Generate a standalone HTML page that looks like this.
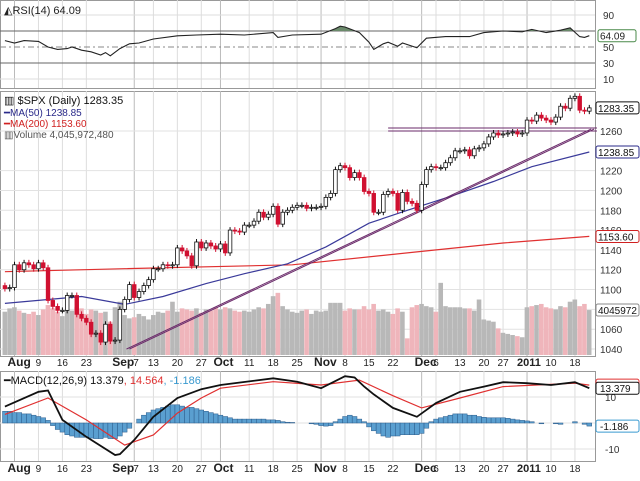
<!DOCTYPE html>
<html><head><meta charset="utf-8">
<style>
html,body{margin:0;padding:0;background:#fff;}
svg{display:block;font-family:"Liberation Sans",sans-serif;}
</style></head>
<body>
<svg id="chart" width="640" height="481" viewBox="0 0 640 481" xmlns="http://www.w3.org/2000/svg"></svg>
<script>
// ---- data ----
const closes=[1101,1102,
1125,1120,1127,1125,1121, 1127,1122,1089,1083,1079, 1079,1094,1094,1075,1071, 1067,1055,1056,1047,1065, 1048,1049,
1080,1090,1105, 1092,1098,1104,1110, 1121,1121,1125,1124,1125, 1142,1139,1134,1124,1148, 1142,1147,1144,1141,
1146, 1137,1160,1159,1158,1165, 1165,1169,1178,1173,1176, 1184,1166,1178,1180,1183, 1185,1185,1182,1183,1183,
1184,1193,1197,1221,1225, 1223,1213,1218,1213,1199, 1197,1178,1178,1196,1199, 1197,1180,1198,1189, 1187,1180,
1206,1221,1224, 1223,1223,1228,1233,1240, 1240,1241,1235,1242,1243, 1247,1254,1258,1256, 1257,1258,1259,1257,1258,
1271,1270,1276,1273,1271, 1269,1274,1285,1283,1293, 1295,1281,1280,1283.35];
const volumes=[3.9,4.2,
4.3,4.0,3.8,3.7,3.9, 3.6,4.1,4.5,4.2,3.9, 3.5,4.0,4.0,4.3,4.2, 3.7,4.1,4.0,3.8,3.9, 3.0,4.3,
4.8,3.6,3.3, 3.4,3.7,3.5,3.2, 3.6,3.9,3.8,4.0,4.8, 3.9,4.2,4.1,4.0,4.2, 3.8,4.1,4.0,4.3,
4.1, 4.3,4.2,4.0,3.9,4.0, 3.9,4.1,4.3,4.2,4.6, 5.3,5.6,4.4,4.1,3.9, 3.8,4.0,4.1,3.7,4.0,
3.9,4.0,4.7,4.7,4.7, 4.0,4.2,4.1,4.1,4.4, 4.1,4.6,4.0,4.1,3.9, 3.7,4.2,3.9,1.5, 4.3,4.5,
4.6,4.4,4.3, 3.9,6.5,4.4,4.3,4.3, 4.3,4.2,4.2,4.0,5.0, 3.2,3.1,3.0,2.4, 2.0,1.9,1.8,1.7,1.6,
4.3,4.4,4.5,4.6,4.3, 4.2,4.1,4.4,4.3,4.8, 5.0,4.4,4.6,4.05];
const rsiDays=[0,2,4,7,9,11,13,14,16,18,20,21,22,24,26,28,31,36,40,45,50,56,57,60,66,69,70,71,74,76,77,79,80,82,83,86,88,92,97,100,104,108,110,113,116,118,120,121,122];
const rsiVals=[58,55,58,57,50,47,48,50,46,44,40,43,39,48,54,55,60,64,65,66,65,68,62,65,66,73,76,75,68,56,47,54,56,51,55,49,61,63,63,68,70,69,72,68,71,74,63,62,64.09];
const ma50Days=[0,16,25,33,42,50,59,67,76,84,93,102,110,122];
const ma50Vals=[1086,1093,1085,1093,1106,1116,1126,1143,1167,1180,1194,1209,1224,1238.85];
const ma200Days=[0,25,60,86,104,122];
const ma200Vals=[1118,1121,1125,1138,1147,1153.6];
const macdDays=[0,7,9,12,17,23,24,27,31,36,41,45,56,61,66,71,73,75,77,81,86,90,95,100,104,109,114,119,122];
const macdVals=[6.3,12,12.5,1.2,-5.3,-12.3,-12,-6.5,2.4,9.6,13,14.6,17.2,15.9,13.4,18,17.5,14,11,5.8,2.4,7.7,12,14,15.7,15.3,14.6,15.7,13.379];
const sigDays=[0,9,17,25,31,36,41,45,56,66,74,81,87,95,104,119,122];
const sigVals=[3.3,9.6,1.2,-8.5,-4.6,3.8,9.6,13.4,15.9,14.6,16.5,10.5,5.8,9.6,14,15.3,14.564];
const histVals=[4.5,4.5,4,4,3.5,3.5,3,2.5,2,1,-1,-2.5,-3.5,-4.5,-5,-5.5,-5.5,-5.5,-5.8,-6,-6,-5.5,-6,-6,
-5,-3.5,-2,0,1.5,3,4,5,5.5,6,6.5,7,7,6.5,6,6,5.5,5,4.5,4,3.5,3,2.5,2,1.5,1.5,1.5,1.5,1.5,1.5,1.5,1.2,
1.2,1,0.5,0.3,0.2,0,0,0,-0.3,-0.5,-1,-1.2,-1,0.5,1.5,2.5,3,2.5,1.5,0.5,-1.5,-3,-4,-5,-5.5,-5,-5,-4.5,-4.5,-4.5,-4.5,
-4,-2,0.5,1.5,2,2.5,3,3.5,3.5,3.5,3,3,2.5,2.2,2,2,2,2,1.8,1.5,1.2,1,0.8,0.5,0,-0.3,0,0,-0.3,-0.5,0,0,0.5,0,-0.5,-1.186];
const priceTicks=[1260,1220,1200,1180,1160,1140,1120,1100,1080,1060,1040];
const rsiTicks=[90,70,50,30,10];
const macdTicks=[10,0,-10];
const xLabelDays=[2,7,12,17,27,31,36,41,45,51,56,61,66,71,76,81,87,90,95,100,104,109,114,119];
const xLabelText=["Aug","9","16","23","Sep7","13","20","27","Oct","11","18","25","Nov","8","15","22","Dec","6","13","20","27","2011","10","18"];
const monthLabel=[true,false,false,false,true,false,false,false,true,false,false,false,true,false,false,false,true,false,false,false,false,true,false,false];
const trendStart=[26,1040], trendEnd=[123,1262];
const hLineDay=80, hLinePrices=[1263,1260];

// ---- scales ----
const xd=i=>14.5+(i-2)*4.79;
const yp=p=>131+(1260-p)*0.991;
const yr=v=>47-(v-50)*0.8;
const yv=v=>355-v*11.1;
const ym=v=>423-v*2.6;
const PR=595;
const svg=document.getElementById('chart');
const NS='http://www.w3.org/2000/svg';
function mk(tag,at,parent){const e=document.createElementNS(NS,tag);for(const k in at)e.setAttribute(k,at[k]);(parent||svg).appendChild(e);return e;}
function txt(x,y,s,at,parent){const e=mk('text',Object.assign({x:x,y:y,'font-size':11,fill:'#222'},at||{}),parent);e.textContent=s;return e;}
function poly(days,vals,f){return days.map((d,k)=>xd(d).toFixed(1)+','+f(vals[k]).toFixed(1)).join(' ');}

// panels
const panels=[[0,0,88,'rsi-panel'],[0,91,265,'price-panel'],[0,371,90,'macd-panel']];
for(const p of panels){const r=mk('rect',{x:0.5,y:p[1]+0.5,width:PR,height:p[2],fill:'#fff',stroke:'#999'});

}
// vertical grid
const vg=mk('g',{});


xLabelDays.forEach((d,k)=>{const x=xd(d);for(const p of panels){mk('line',{x1:x,x2:x,y1:p[1],y2:p[1]+p[2],stroke:monthLabel[k]?'#bbb':'#ddd','stroke-width':1},vg);}});
// x labels
[366,472].forEach((yy,n)=>{const g=mk('g',{});


xLabelDays.forEach((d,k)=>{const x=xd(d);const s=xLabelText[k];
 if(s==='Sep7'){txt(x-22,yy,'Sep',{'font-weight':'bold','font-size':12},g);txt(x-1,yy,'7',{'font-size':10},g);}
 else if(monthLabel[k])txt(x-(s==='2011'?10:7),yy,s,{'font-weight':'bold','font-size':s==='2011'?11:12},g);
 else txt(x,yy,s,{'text-anchor':'middle','font-size':10},g);});});

// ---- RSI ----
const rg=mk('g',{});


rsiTicks.forEach(t=>{const y=yr(t);
 mk('line',{x1:0,x2:PR,y1:y,y2:y,stroke:(t===70||t===30)?'#666':(t===50?'#888':'#ddd'),'stroke-dasharray':t===50?'6,3,2,3':'none'},rg);
 if(t!==70)txt(603,y+4,String(t),{'font-size':10,fill:'#333'},rg);});
mk('clipPath',{id:'ob'},rg);
mk('rect',{x:0,y:0,width:PR,height:yr(70)},document.getElementById('ob'));
mk('polygon',{points:xd(rsiDays[0])+','+yr(70)+' '+poly(rsiDays,rsiVals,yr)+' '+xd(rsiDays[rsiDays.length-1])+','+yr(70),fill:'#6b8a6b','clip-path':'url(#ob)'},rg);
const rl=mk('polyline',{points:poly(rsiDays,rsiVals,yr),fill:'none',stroke:'#222','stroke-width':1.1},rg);


txt(4,14,'◭RSI(14) 64.09',{'font-size':11},rg);
mk('rect',{x:598,y:yr(64.09)-6,width:38,height:12,fill:'#fff',stroke:'#4a8a4a',rx:2},rg);
txt(600,yr(64.09)+4,'64.09',{'font-size':10},rg);

// ---- price panel ----
const pg=mk('g',{});


priceTicks.forEach(t=>{const y=yp(t);mk('line',{x1:0,x2:PR,y1:y,y2:y,stroke:'#e2e2e2'},pg);
 if(t!==1080)txt(600,y+4,String(t),{'font-size':10,fill:'#333'},pg);});
// volume
const vgp=mk('g',{},pg);


volumes.forEach((v,i)=>{const up=i===0||closes[i]>=closes[i-1];
 const b=mk('rect',{x:xd(i)-2.4,y:yv(v),width:4.6,height:355-yv(v),fill:up?'#b8b8b8':'#efb5bb'},vgp);
 
 });
// MAs
const m2=mk('polyline',{points:poly(ma200Days,ma200Vals,yp),fill:'none',stroke:'#e03030','stroke-width':1.2},pg);


const m5=mk('polyline',{points:poly(ma50Days,ma50Vals,yp),fill:'none',stroke:'#3a3a9a','stroke-width':1.2},pg);


// trend lines
[0,-3].forEach(o=>{const l=mk('line',{x1:xd(trendStart[0])+o,y1:yp(trendStart[1]),x2:xd(trendEnd[0])+o,y2:yp(trendEnd[1]),stroke:'#6a2a6a','stroke-width':1},pg);
 
 });
hLinePrices.forEach(p=>{const l=mk('line',{x1:xd(hLineDay),x2:PR+2,y1:yp(p),y2:yp(p),stroke:'#6a2a6a','stroke-width':1},pg);
 
 });
// candles
const cg=mk('g',{},pg);


closes.forEach((c,i)=>{const o=i===0?c+3:closes[i-1];const up=c>=o;
 const col=up?'#111':'#d01030';
 const hi=Math.max(o,c)+3, lo=Math.min(o,c)-3;
 mk('line',{x1:xd(i),x2:xd(i),y1:yp(hi),y2:yp(lo),stroke:col,'stroke-width':1},cg);
 const b=mk('rect',{x:xd(i)-1.8,y:yp(Math.max(o,c)),width:3.6,height:Math.max(1,Math.abs(yp(o)-yp(c))),fill:up?'#fff':col,stroke:col,'stroke-width':0.8},cg);
 
 });
// legend
txt(4,104,'▥ $SPX (Daily) 1283.35',{'font-size':11,fill:'#111'},pg);
txt(4,116,'━MA(50) 1238.85',{'font-size':10,fill:'#2a2a8a'},pg);
txt(4,127,'━MA(200) 1153.60',{'font-size':10,fill:'#d02020'},pg);
txt(4,138,'▥Volume 4,045,972,480',{'font-size':10,fill:'#555'},pg);
// right boxes
[[closes[closes.length-1],'1283.35','#111',yp],[ma50Vals[ma50Vals.length-1],'1238.85','#2a2a8a',yp],[ma200Vals[ma200Vals.length-1],'1153.60','#d02020',yp],[volumes[volumes.length-1],'4045972','#888',yv]].forEach(a=>{const y=a[3](a[0]);
 const b=mk('rect',{x:596,y:y-6,width:43,height:12,fill:'#fff',stroke:a[2],rx:2},pg);
 
 
 txt(598,y+4,a[1],{'font-size':10,fill:'#111'},pg);});

// ---- MACD ----
const mg=mk('g',{});


macdTicks.forEach(t=>{const y=ym(t);mk('line',{x1:0,x2:PR,y1:y,y2:y,stroke:'#e2e2e2'},mg);
 if(t!==0)txt(605,y+4,String(t),{'font-size':10,fill:'#333'},mg);});
histVals.forEach((h,i)=>{const y0=ym(0),y1=ym(h);
 const b=mk('rect',{x:xd(i)-2.4,y:Math.min(y0,y1),width:4.8,height:Math.abs(y1-y0),fill:'#5a9fd0',stroke:'#2a5a8a','stroke-width':0.5},mg);
 
 });
const sl=mk('polyline',{points:poly(sigDays,sigVals,ym),fill:'none',stroke:'#e03030','stroke-width':1.2},mg);


const ml=mk('polyline',{points:poly(macdDays,macdVals,ym),fill:'none',stroke:'#111','stroke-width':1.8},mg);


const lt=txt(4,384,'━MACD(12,26,9) 13.379',{'font-size':11,fill:'#111'},mg);
const s1=mk('tspan',{fill:'#e03030'},lt);s1.textContent=', 14.564';
const s2=mk('tspan',{fill:'#3a9ad0'},lt);s2.textContent=', -1.186';
[[sigVals[sigVals.length-1],'','#e03030'],[macdVals[macdVals.length-1],'13.379','#111'],[histVals[histVals.length-1],'-1.186','#3a9ad0']].forEach(a=>{const y=ym(a[0]);
 mk('rect',{x:596,y:y-6,width:43,height:12,fill:'#fff',stroke:a[2],rx:2},mg);
 if(a[1])txt(600,y+4,a[1],{'font-size':10,fill:'#111'},mg);});
</script>
</body></html>
